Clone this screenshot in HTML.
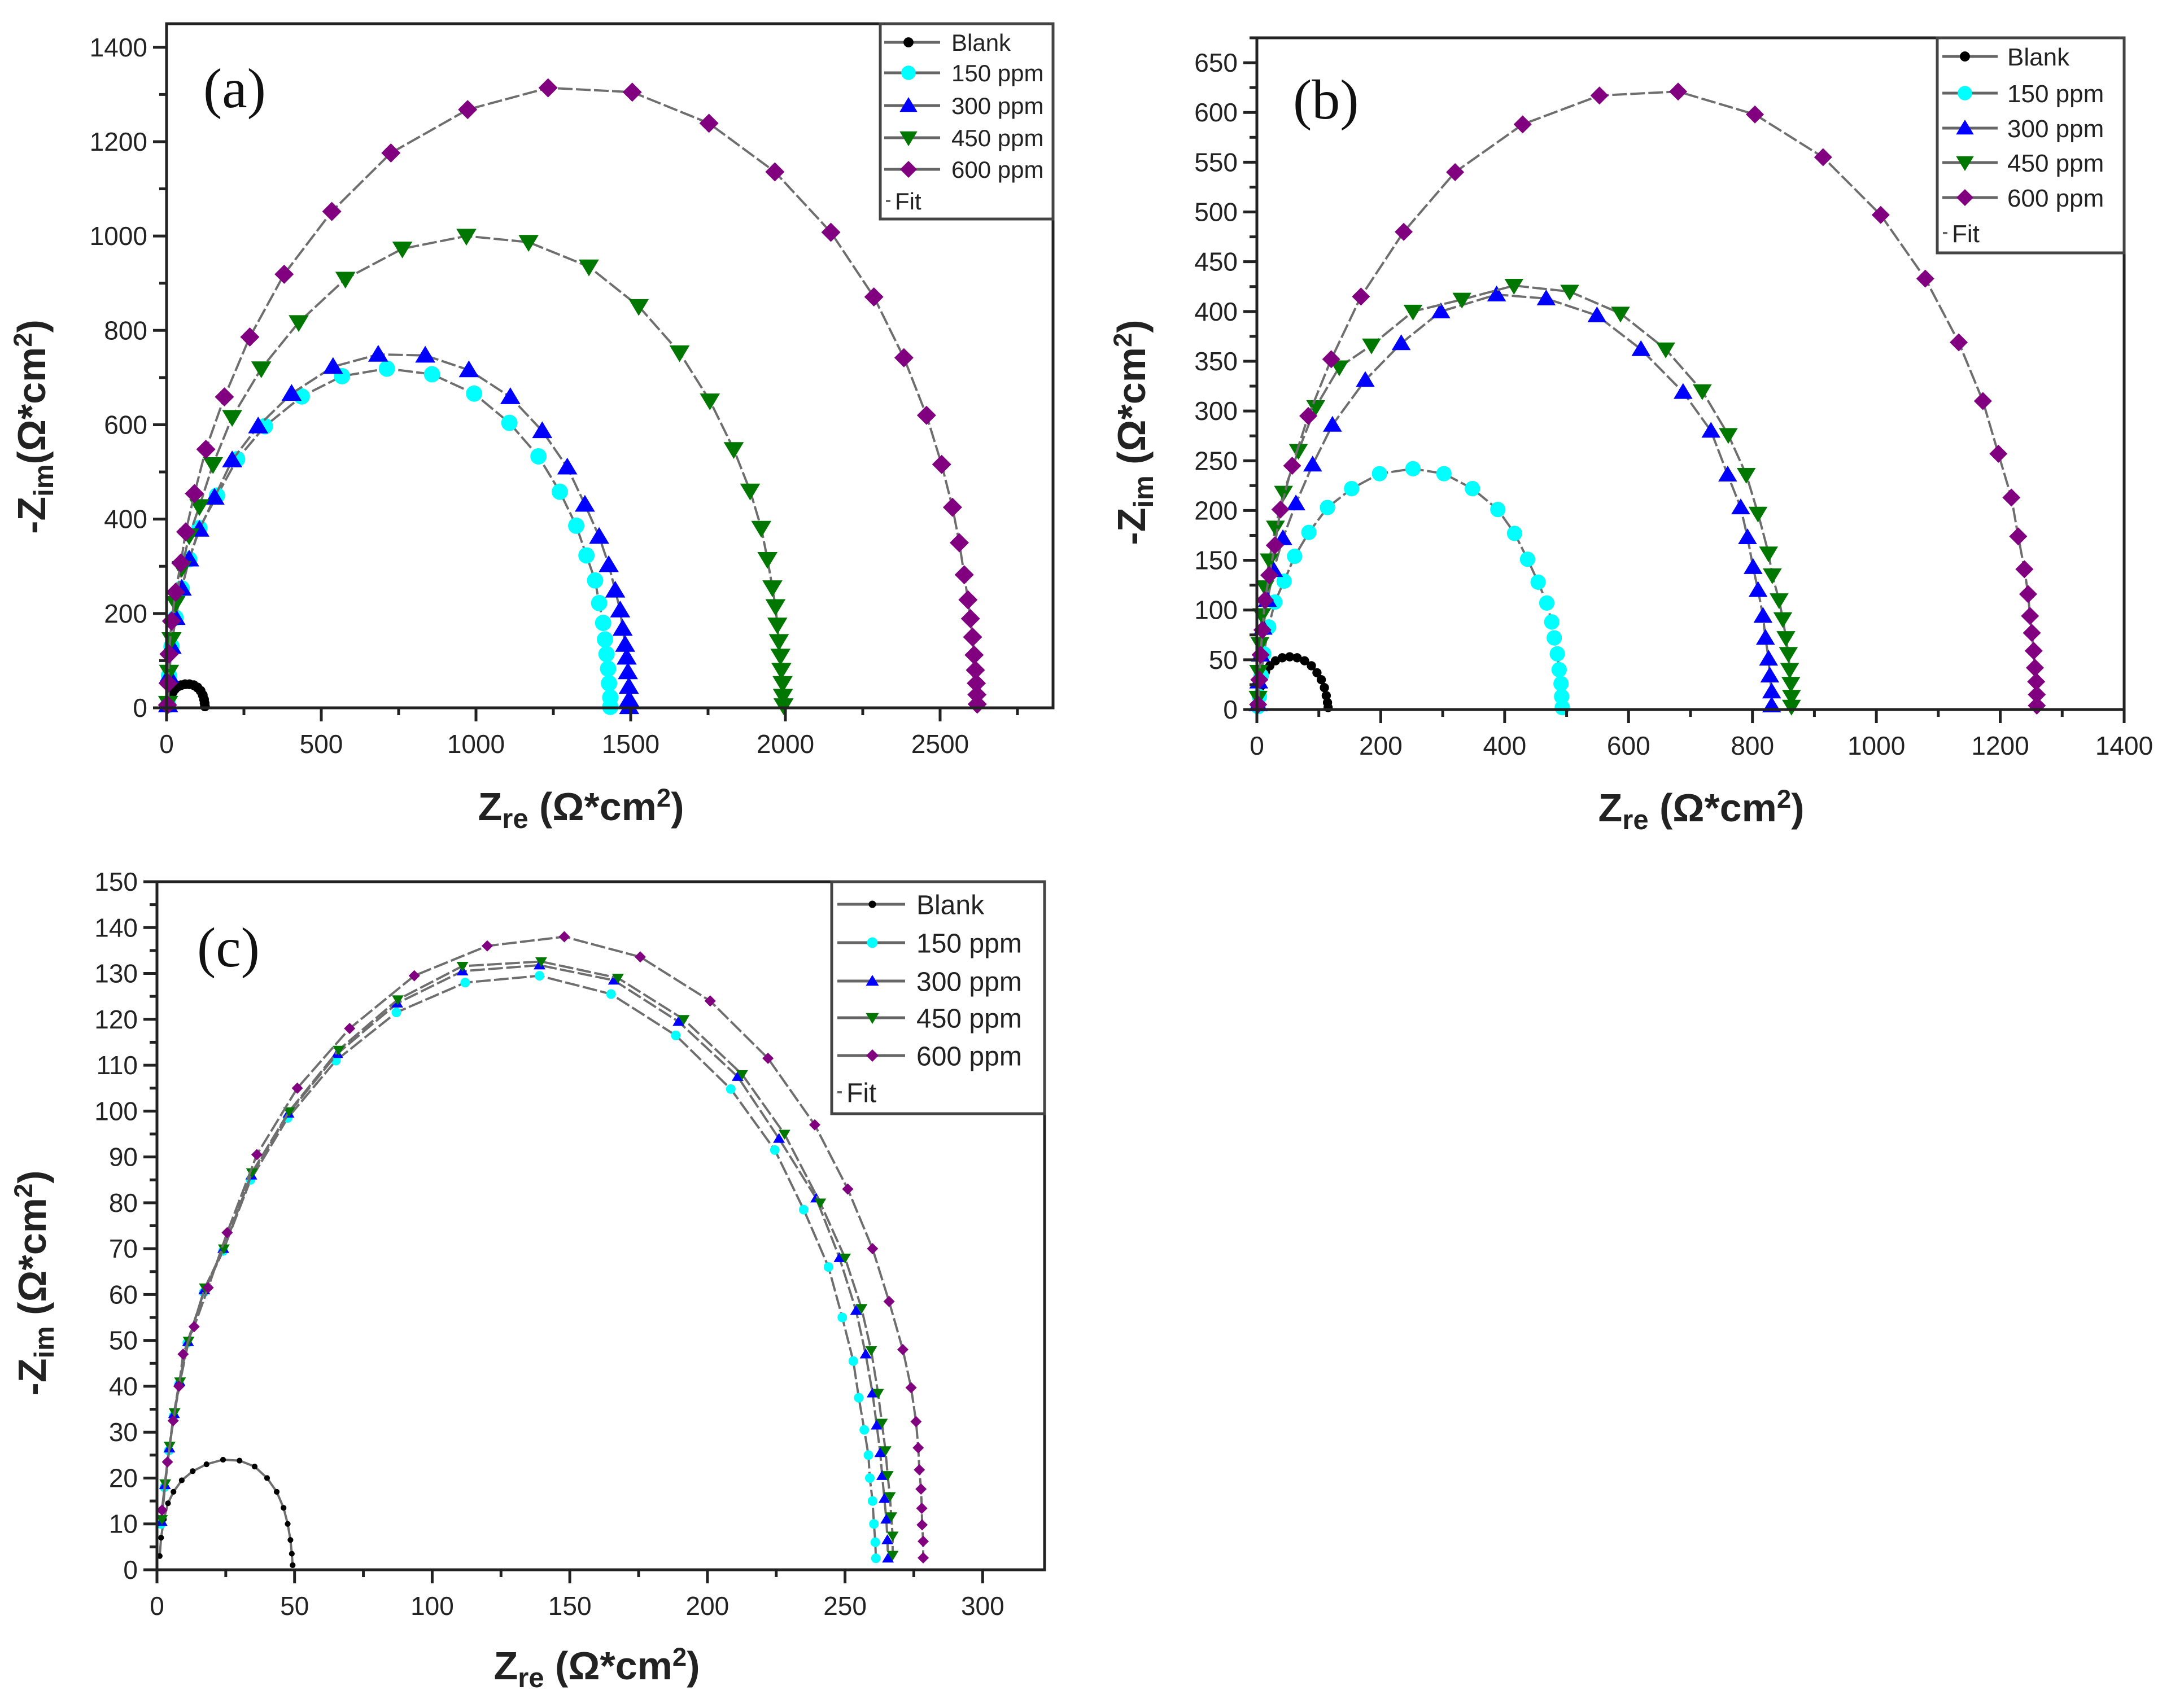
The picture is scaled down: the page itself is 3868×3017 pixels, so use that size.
<!DOCTYPE html>
<html><head><meta charset="utf-8"><style>
html,body{margin:0;padding:0;background:#fff;}
svg{display:block;font-family:"Liberation Sans",Arial,sans-serif;}
</style></head><body>
<svg id="fig" width="3868" height="3017" viewBox="0 0 3868 3017" xmlns="http://www.w3.org/2000/svg"></svg>
<script>
// ===== Panel (a) data =====
const aBlankX=[10,12,15,20,27,36,47,60,74,88,100,110,117,121,123,124];
const aBlankY=[5,15,25,33,40,45,48,50,50,48,43,36,27,18,10,3];
const a150X=[5,8,16,29,49,73,106,163,228,318,437,567,712,858,994,1108,1202,1271,1324,1357,1385,1398,1411,1417,1422,1427,1430,1434,1434];
const a150Y=[6,68,130,191,253,315,381,450,527,597,660,703,719,707,666,604,533,458,386,323,270,222,180,145,114,83,52,22,2];
const a300X=[5,8,16,29,49,73,106,155,212,296,404,538,684,836,977,1111,1214,1295,1352,1398,1429,1450,1466,1474,1482,1487,1491,1494,1495,1495];
const a300Y=[6,68,130,191,253,315,378,446,525,597,666,723,749,747,716,659,587,510,431,363,303,249,207,168,134,107,76,45,18,2];
const a450X=[5,8,16,29,49,73,106,150,212,306,427,578,762,969,1170,1365,1526,1658,1756,1833,1886,1922,1942,1958,1968,1974,1979,1984,1987,1991,1992,1994];
const a450Y=[10,76,145,222,296,365,427,516,616,719,817,909,973,1000,987,935,851,753,651,548,460,381,315,255,215,176,141,110,80,52,25,5];
const a600X=[3,5,8,16,29,46,62,90,127,187,269,380,534,725,973,1233,1505,1753,1966,2147,2286,2383,2456,2505,2540,2562,2578,2590,2598,2605,2610,2614,2617,2619,2620];
const a600Y=[6,52,114,184,245,307,373,454,548,659,786,919,1052,1176,1268,1314,1305,1239,1136,1008,871,742,620,516,425,350,282,229,189,150,112,80,52,28,8];
const aXTicks=[0,500,1000,1500,2000,2500];
const aYTicks=[0,200,400,600,800,1000,1200,1400];

// ===== Panel (b) data =====
const bBlankX=[3,4,6,9,14,21,30,41,53,65,77,88,97,104,109,112,114,115];
const bBlankY=[5,14,23,31,38,44,49,52,53,52,49,44,37,30,22,14,7,2];
const b150X=[2,4,7,11,19,29,44,61,84,114,153,198,252,302,348,389,416,437,454,468,476,480,485,488,491,492,493];
const b150Y=[3,13,34,56,83,108,129,154,178,203,222,237,242,237,222,201,177,151,128,107,88,72,56,40,26,13,2];
const b300X=[2,3,6,10,17,27,42,63,90,122,175,233,297,387,467,549,620,688,733,760,781,792,801,809,817,821,826,828,831,831];
const b300Y=[5,28,55,82,110,140,172,207,246,286,331,368,400,417,413,396,362,319,280,236,203,173,143,120,94,72,51,34,18,4];
const b450X=[2,3,5,8,13,20,30,43,67,95,133,185,252,331,415,505,587,660,719,761,790,809,826,832,843,849,854,858,860,862,863,863];
const b450Y=[12,38,66,95,123,150,183,218,260,304,344,366,400,412,426,420,398,362,320,276,236,197,157,135,110,91,72,56,40,26,13,3];
const b600X=[2,4,6,9,13,20,29,38,57,83,120,168,237,320,429,553,680,804,914,1007,1079,1133,1172,1197,1218,1229,1239,1245,1248,1251,1254,1256,1258,1259,1259];
const b600Y=[5,30,55,80,110,135,165,201,245,295,352,415,480,540,588,617,621,598,555,497,433,369,310,257,213,174,141,116,94,77,59,42,28,15,4];
const bXTicks=[0,200,400,600,800,1000,1200,1400];
const bYTicks=[0,50,100,150,200,250,300,350,400,450,500,550,600,650];

// ===== Panel (c) data =====
const cBlankX=[1,1.5,2.5,4,6,9,13,18,24,30,35.5,40,43.5,46,47.5,48.5,49,49.3];
const cBlankY=[3,7,11,14.5,17,19.5,21.5,23,24,23.8,22.5,20,17,13.5,10,6.5,3.5,1];
const c150X=[1.5,2.7,4.3,6,8,11,17,24,34,47.5,65,87,112,139,165,188.5,208.5,224.5,235,244,249,253,255,257,258.5,259,260,260.5,261,261.2];
const c150Y=[10,18,26,33.5,40.5,49.5,60.5,69.5,85,98.5,111,121.5,128,129.5,125.5,116.5,104.8,91.5,78.5,66,55,45.5,37.5,30.5,25,20,15,10,6,2.5];
const c300X=[1.7,2.9,4.5,6.2,8.2,11.3,17.2,24.1,34.3,47.8,65.5,87.3,111,139,166,189.5,211,226,239.5,248,254,257.5,260,261.5,262.8,263.5,264.3,265,265.4,265.6];
const c300Y=[10.5,18.5,26.5,34,41,49.7,61,70,86,99.5,112.5,123.5,130.5,131.8,128.5,119.5,107.5,94,81,68,56.5,47,38.5,31.5,25.5,20.5,15.5,11,6.5,2.5];
const c450X=[1.8,3,4.6,6.4,8.4,11.5,17.4,24.3,34.5,48,66,87.5,111,139.6,167.5,191.4,212.6,228,241,250,256,259.5,262,263.4,264.7,265.5,266.3,266.8,267.3,267.3];
const c450Y=[11,18.8,27,34.3,41,49.9,61.5,70,86.6,99.9,113.3,124.3,131.6,132.6,129,120,108,95,80,68,57,47.8,38.5,32,26,20.6,16,11.6,7.4,3.2];
const c600X=[1.8,3.8,5.9,8,9.5,13.5,18.6,25.5,36.3,51,70,93.5,120,148,175.6,201,222,239,251,260,266,271,274,275.8,276.6,277,277.6,277.9,278,278.4,278.4];
const c600Y=[13,23.5,32.5,40,47,53,61.5,73.5,90.5,105,118,129.5,136,138,133.6,124,111.5,97,83,70,58.5,48,39.7,32.3,26.6,21.8,17.6,13.4,9.8,6.2,2.6];
const cXTicks=[0,50,100,150,200,250,300];
const cYTicks=[0,10,20,30,40,50,60,70,80,90,100,110,120,130,140,150];

const seriesNames=["Blank","150 ppm","300 ppm","450 ppm","600 ppm"];
const seriesColors=["#000000","#00ffff","#0000ff","#007700","#800080"];
const seriesShapes=["circle","circle","tri","tridown","diamond"];

const NS="http://www.w3.org/2000/svg";
const svg=document.getElementById('fig');
function mk(tag,attrs,parent){const e=document.createElementNS(NS,tag);for(const k in attrs)e.setAttribute(k,attrs[k]);(parent||svg).appendChild(e);return e;}

function marker(g,shape,cx,cy,r,color){
  let e;
  if(shape==="circle") e=mk('circle',{cx:cx,cy:cy,r:r*0.85,fill:color},g);
  else if(shape==="tri") e=mk('polygon',{points:`${cx},${cy-r} ${cx-r*1.05},${cy+r*0.75} ${cx+r*1.05},${cy+r*0.75}`,fill:color},g);
  else if(shape==="tridown") e=mk('polygon',{points:`${cx},${cy+r} ${cx-r*1.05},${cy-r*0.75} ${cx+r*1.05},${cy-r*0.75}`,fill:color},g);
  else e=mk('polygon',{points:`${cx},${cy-r} ${cx+r},${cy} ${cx},${cy+r} ${cx-r},${cy}`,fill:color},g);
  return e;
}

function panel(cfg){
  const {L,R,T,B,xmax,ymax,xt,yt,xminor,yminor,series,id,ms,tickFont}=cfg;
  const sx=v=>L+(v/xmax)*(R-L);
  const sy=v=>B-(v/ymax)*(B-T);
  const g=mk('g',{});
  
  
  // series
  series.forEach((s,i)=>{
    const sg=mk('g',{},g);
    
    
    const pts=s.x.map((v,j)=>sx(v)+','+sy(s.y[j])).join(' ');
    const line=mk('polyline',{points:pts,fill:'none',stroke:'#6e6e6e','stroke-width':4,'stroke-dasharray':i===0?'none':'26,6'},sg);
    
    
    s.x.forEach((v,j)=>{
      const m=marker(sg,seriesShapes[i],sx(v),sy(s.y[j]),i===0?ms*0.6:ms,seriesColors[i]);
      
      
    });
  });
  // frame
  const fr=mk('rect',{x:L,y:T,width:R-L,height:B-T,fill:'none',stroke:'#222','stroke-width':5},g);
  
  
  // ticks
  for(let v=0;v<=xmax+1e-9;v+=xminor){
    const isMaj=xt.some(t=>Math.abs(t-v)<1e-6);
    mk('line',{x1:sx(v),x2:sx(v),y1:B,y2:B+(isMaj?24:13),stroke:'#222','stroke-width':5},g);
  }
  for(let v=0;v<=ymax+1e-9;v+=yminor){
    const isMaj=yt.some(t=>Math.abs(t-v)<1e-6);
    mk('line',{x1:L,x2:L-(isMaj?24:13),y1:sy(v),y2:sy(v),stroke:'#222','stroke-width':5},g);
  }
  xt.forEach(v=>{
    const t=mk('text',{x:sx(v),y:B+80,'text-anchor':'middle','font-size':tickFont,fill:'#222'},g);
    t.textContent=v;
    
    
  });
  yt.forEach(v=>{
    const t=mk('text',{x:L-34,y:sy(v)+16,'text-anchor':'end','font-size':tickFont,fill:'#222'},g);
    t.textContent=v;
    
    
  });
  return g;
}

function legend(cfg){
  const {x1,x2,y1,y2,rows,mx,lx0,lx1,tx,fs,ms,id}=cfg;
  const g=mk('g',{});
  
  
  mk('rect',{x:x1,y:y1,width:x2-x1,height:y2-y1,fill:'#fff',stroke:'#444','stroke-width':5},g);
  seriesNames.forEach((n,i)=>{
    const y=rows[i];
    const eg=mk('g',{},g);
    
    
    mk('line',{x1:lx0,x2:lx1,y1:y,y2:y,stroke:'#666','stroke-width':5},eg);
    marker(eg,seriesShapes[i],mx,y,i===0?ms*0.7:ms,seriesColors[i]);
    const t=mk('text',{x:tx,y:y+fs*0.36,'font-size':fs,fill:'#222'},eg);
    t.textContent=n;
  });
  const fg=mk('g',{},g);
  
  
  mk('line',{x1:x1+10,x2:x1+18,y1:rows[5],y2:rows[5],stroke:'#666','stroke-width':4},fg);
  const ft=mk('text',{x:x1+26,y:rows[5]+fs*0.36,'font-size':fs,fill:'#222'},fg);
  ft.textContent='Fit';
}

function titles(xcx,xby,ycx,ycy,lbl,lx,lby,fs,noSpace){
  const xt=mk('text',{x:xcx,y:xby,'text-anchor':'middle','font-size':fs,'font-weight':'bold',fill:'#222'});
  
  
  xt.innerHTML='Z<tspan font-size="'+(fs*0.7)+'" dy="14">re</tspan><tspan dy="-14"> (Ω*cm</tspan><tspan font-size="'+(fs*0.65)+'" dy="-24">2</tspan><tspan dy="24">)</tspan>';
  const yt=mk('text',{x:0,y:0,'text-anchor':'middle','font-size':fs,'font-weight':'bold',fill:'#222',transform:`translate(${ycx},${ycy}) rotate(-90)`});
  
  
  yt.innerHTML='-Z<tspan font-size="'+(fs*0.7)+'" dy="14">im</tspan><tspan dy="-14">'+(noSpace?'':' ')+'(Ω*cm</tspan><tspan font-size="'+(fs*0.65)+'" dy="-24">2</tspan><tspan dy="24">)</tspan>';
  const pl=mk('text',{x:lx,y:lby,'font-size':100,'font-family':'"Liberation Serif",serif',fill:'#111'});
  
  
  pl.textContent=lbl;
}

// Panel (a)
panel({id:'a',L:295,R:1865,T:42,B:1254,xmax:2865,ymax:1450,xt:aXTicks,yt:aYTicks,xminor:250,yminor:100,ms:17,tickFont:46,
  series:[{x:aBlankX,y:aBlankY},{x:a150X,y:a150Y},{x:a300X,y:a300Y},{x:a450X,y:a450Y},{x:a600X,y:a600Y}]});
legend({id:'a',x1:1559,x2:1865,y1:42,y2:388,rows:[75,129,187,244,300,356],mx:1609,lx0:1566,lx1:1665,tx:1685,fs:42,ms:15});
titles(1029,1453,80,756,'(a)',360,190,70,true);

// Panel (b)
panel({id:'b',L:2226,R:3762,T:67,B:1257,xmax:1400,ymax:675,xt:bXTicks,yt:bYTicks,xminor:100,yminor:25,ms:16,tickFont:46,
  series:[{x:bBlankX,y:bBlankY},{x:b150X,y:b150Y},{x:b300X,y:b300Y},{x:b450X,y:b450Y},{x:b600X,y:b600Y}]});
legend({id:'b',x1:3431,x2:3762,y1:67,y2:448,rows:[100,165,227,288,350,413],mx:3480,lx0:3440,lx1:3538,tx:3555,fs:44,ms:15});
titles(3013,1455,2028,766,'(b)',2290,210,70,false);

// Panel (c)
panel({id:'c',L:278,R:1850,T:1562,B:2781,xmax:322.5,ymax:150,xt:cXTicks,yt:cYTicks,xminor:25,yminor:5,ms:10,tickFont:46,
  series:[{x:cBlankX,y:cBlankY},{x:c150X,y:c150Y},{x:c300X,y:c300Y},{x:c450X,y:c450Y},{x:c600X,y:c600Y}]});
legend({id:'c',x1:1473,x2:1850,y1:1562,y2:1973,rows:[1602,1670,1738,1803,1870,1935],mx:1545,lx0:1483,lx1:1603,tx:1623,fs:48,ms:11});
titles(1057,2975,81,2273,'(c)',349,1712,70,false);
</script>
</body></html>
